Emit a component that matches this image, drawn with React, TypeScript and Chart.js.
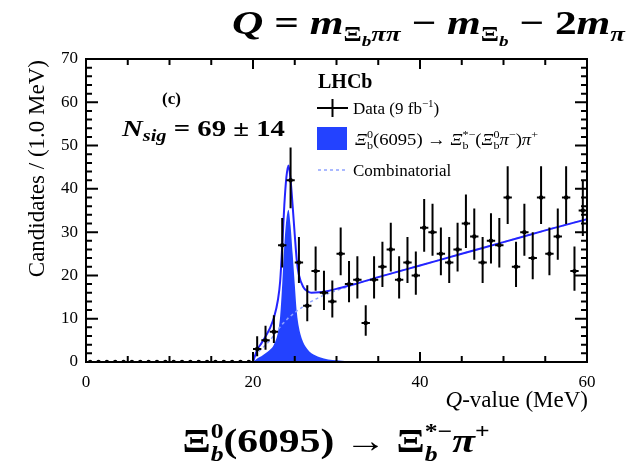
import React, { useEffect, useRef } from "react";
import { Chart, registerables } from "chart.js";
Chart.register(...registerables);

// ---------- data ----------
const binCenters = [
  0.5, 1.5, 2.5, 3.5, 4.5, 5.5, 6.5, 7.5, 8.5, 9.5,
  10.5, 11.5, 12.5, 13.5, 14.5, 15.5, 16.5, 17.5, 18.5, 19.5,
  20.5, 21.5, 22.5, 23.5, 24.5, 25.5, 26.5, 27.5, 28.5, 29.5,
  30.5, 31.5, 32.5, 33.5, 34.5, 35.5, 36.5, 37.5, 38.5, 39.5,
  40.5, 41.5, 42.5, 43.5, 44.5, 45.5, 46.5, 47.5, 48.5, 49.5,
  50.5, 51.5, 52.5, 53.5, 54.5, 55.5, 56.5, 57.5, 58.5, 59.5,
];
const counts = [
  0, 0, 0, 0, 0, 0, 0, 0, 0, 0,
  0, 0, 0, 0, 0, 0, 0, 0, 0, 0,
  3, 5, 7, 27, 42, 23, 13, 21, 16, 14,
  25, 18, 19, 9, 19, 22, 26, 19, 23, 20,
  31, 30, 25, 23, 26, 32, 29, 23, 28, 27,
  38, 22, 30, 24, 38, 25, 29, 38, 21, 35,
];
const fitQ = [
  20, 20.5, 21, 21.5, 22, 22.5, 23, 23.25, 23.5, 23.75,
  24, 24.25, 24.5, 24.75, 25, 25.25, 25.5, 26, 26.5, 27,
  28, 29, 30, 32, 35, 40, 45, 50, 55, 60,
];
const signalFit = [
  0, 0.8, 1.3, 2.0, 2.8, 4.0, 7.0, 10.5, 18, 27,
  33, 35.2, 31.5, 25, 18, 11.5, 8, 4.6, 3.0, 2.0,
  1.1, 0.6, 0.4, 0.1, 0, 0, 0, 0, 0, 0,
];
const backgroundFit = [
  0, 2.0, 3.0, 3.9, 4.9, 6.2, 7.5, 8.1, 8.7, 9.2,
  9.7, 10.2, 10.6, 11.0, 11.4, 11.8, 12.1, 12.8, 13.4, 14.0,
  15.0, 15.8, 16.5, 17.8, 19.6, 22.3, 25.0, 27.7, 30.4, 33.0,
];
const xTickValues = [0, 5, 10, 15, 20, 25, 30, 35, 40, 45, 50, 55, 60];
const xMajorTicks = [0, 20, 40, 60];
const yTickValues = [0, 2, 4, 6, 8, 10, 12, 14, 16, 18, 20, 22, 24, 26, 28, 30, 32, 34, 36, 38, 40, 42, 44, 46, 48, 50, 52, 54, 56, 58, 60, 62, 64, 66, 68, 70];
const yMajorTicks = [0, 10, 20, 30, 40, 50, 60, 70];

const SERIF = '"Liberation Serif", "Times New Roman", serif';
const SIG_COLOR = "#2342ff";
const TOTAL_COLOR = "#2424ff";
const BKG_COLOR = "#8ea2ff";

// ---------- rich text ----------
type Run = { t: string; size: number; b?: boolean; i?: boolean; dy?: number };
type Item = Run | { stack: [Run, Run] };
const fontOf = (r: Run) => `${r.i ? "italic " : ""}${r.b ? "bold " : ""}${r.size}px ${SERIF}`;
function itemWidth(ctx: CanvasRenderingContext2D, it: Item) {
  if ("stack" in it) {
    return Math.max(...it.stack.map((r) => { ctx.font = fontOf(r); return ctx.measureText(r.t).width; }));
  }
  ctx.font = fontOf(it);
  return ctx.measureText(it.t).width;
}
function drawRich(ctx: CanvasRenderingContext2D, items: Item[], x: number, y: number, align: "left" | "center" | "right", fitW?: number) {
  const total = items.reduce((s, it) => s + itemWidth(ctx, it), 0);
  const sc = fitW ? fitW / total : 1;
  const w = total * sc;
  const startX = align === "left" ? x : align === "center" ? x - w / 2 : x - w;
  ctx.save();
  ctx.translate(startX, y);
  ctx.scale(sc, 1);
  ctx.textAlign = "left";
  ctx.textBaseline = "alphabetic";
  ctx.fillStyle = "#000";
  let cx = 0;
  for (const it of items) {
    const iw = itemWidth(ctx, it);
    const runs = "stack" in it ? it.stack : [it];
    for (const r of runs) {
      ctx.font = fontOf(r);
      ctx.fillText(r.t, cx, r.dy || 0);
    }
    cx += iw;
  }
  ctx.restore();
}

// ---------- plugins ----------
const errorBars = {
  id: "errorBars",
  afterDatasetsDraw(chart: any) {
    const { ctx, scales } = chart;
    const xs = scales.x, ys = scales.y;
    ctx.save();
    ctx.strokeStyle = "#000";
    ctx.lineWidth = 2;
    for (let k = 0; k < counts.length; k++) {
      const n = counts[k];
      const cy = ys.getPixelForValue(n);
      const x0 = xs.getPixelForValue(binCenters[k] - 0.5);
      const x1 = xs.getPixelForValue(binCenters[k] + 0.5);
      const cx = xs.getPixelForValue(binCenters[k]);
      ctx.beginPath();
      ctx.moveTo(x0, cy);
      ctx.lineTo(x1, cy);
      if (n > 0) {
        const up = n + Math.sqrt(n + 0.75) + 1;
        const lo = n - Math.sqrt(n - 0.25);
        ctx.moveTo(cx, ys.getPixelForValue(up));
        ctx.lineTo(cx, ys.getPixelForValue(lo));
      }
      ctx.stroke();
    }
    ctx.restore();
  },
};

const decorations = {
  id: "decorations",
  afterDraw(chart: any) {
    const { ctx, chartArea, scales } = chart;
    const { left, right, top, bottom } = chartArea;
    ctx.save();
    ctx.strokeStyle = "#000";
    ctx.lineWidth = 2;
    ctx.strokeRect(left, top, right - left, bottom - top);
    ctx.beginPath();
    for (const v of yTickValues) {
      const py = scales.y.getPixelForValue(v);
      const len = yMajorTicks.includes(v) ? 12 : 6;
      ctx.moveTo(left, py); ctx.lineTo(left + len, py);
      ctx.moveTo(right, py); ctx.lineTo(right - len, py);
    }
    for (const v of xTickValues) {
      const px = scales.x.getPixelForValue(v);
      const len = xMajorTicks.includes(v) ? 10 : 6;
      ctx.moveTo(px, bottom); ctx.lineTo(px, bottom - len);
      ctx.moveTo(px, top); ctx.lineTo(px, top + len);
    }
    ctx.stroke();

    // axis titles
    drawRich(ctx, [
      { t: "Q", size: 23, i: true },
      { t: "-value (MeV)", size: 23 },
    ], right + 1, 407, "right");
    ctx.save();
    ctx.translate(38, top + 1);
    ctx.rotate(-Math.PI / 2);
    ctx.font = `23px ${SERIF}`;
    ctx.textAlign = "right";
    ctx.textBaseline = "middle";
    ctx.fillStyle = "#000";
    ctx.fillText("Candidates / (1.0 MeV)", 0, 0);
    ctx.restore();

    // labels in plot
    drawRich(ctx, [{ t: "(c)", size: 17, b: true }], 162, 104, "left");
    drawRich(ctx, [
      { t: "N", size: 24, b: true, i: true },
      { t: "sig", size: 17, b: true, i: true, dy: 5 },
      { t: " = 69 ± 14", size: 24, b: true },
    ], 122, 136, "left", 163);

    // legend
    drawRich(ctx, [{ t: "LHCb", size: 20, b: true }], 318, 88, "left");
    ctx.beginPath();
    ctx.lineWidth = 2;
    ctx.moveTo(317, 108); ctx.lineTo(348, 108);
    ctx.moveTo(332.5, 99); ctx.lineTo(332.5, 117);
    ctx.stroke();
    drawRich(ctx, [
      { t: "Data (9 fb", size: 17 },
      { t: "−1", size: 11, dy: -7 },
      { t: ")", size: 17 },
    ], 353, 114, "left");
    ctx.fillStyle = SIG_COLOR;
    ctx.fillRect(317, 127, 30, 23);
    const sub = (t: string): Run => ({ t, size: 11, dy: 4 });
    const sup = (t: string): Run => ({ t, size: 11, dy: -7 });
    drawRich(ctx, [
      { t: "Ξ", size: 17, i: true },
      { stack: [sup("0"), sub("b")] },
      { t: "(6095) → ", size: 17 },
      { t: "Ξ", size: 17, i: true },
      { stack: [sup("*−"), sub("b")] },
      { t: "(", size: 17 },
      { t: "Ξ", size: 17, i: true },
      { stack: [sup("0"), sub("b")] },
      { t: "π", size: 17, i: true },
      sup("−"),
      { t: ")", size: 17 },
      { t: "π", size: 17, i: true },
      sup("+"),
    ], 355, 145, "left", 183);
    ctx.beginPath();
    ctx.strokeStyle = BKG_COLOR;
    ctx.lineWidth = 1.5;
    ctx.setLineDash([3, 3]);
    ctx.moveTo(318, 170); ctx.lineTo(347, 170);
    ctx.stroke();
    ctx.setLineDash([]);
    drawRich(ctx, [{ t: "Combinatorial", size: 17 }], 353, 176, "left");

    // outer annotations
    const S = 34, s = 21, ss = 15;
    drawRich(ctx, [
      { t: "Q", size: S, b: true, i: true },
      { t: " = ", size: S, b: true },
      { t: "m", size: S, b: true, i: true },
      { t: "Ξ", size: s, b: true, dy: 7 },
      { t: "b", size: ss, b: true, i: true, dy: 12 },
      { t: "ππ", size: s, b: true, i: true, dy: 7 },
      { t: " − ", size: S, b: true },
      { t: "m", size: S, b: true, i: true },
      { t: "Ξ", size: s, b: true, dy: 7 },
      { t: "b", size: ss, b: true, i: true, dy: 12 },
      { t: " − 2", size: S, b: true },
      { t: "m", size: S, b: true, i: true },
      { t: "π", size: s, b: true, i: true, dy: 7 },
    ], 625, 34, "right", 393);
    drawRich(ctx, [
      { t: "Ξ", size: S, b: true },
      { stack: [{ t: "0", size: s, b: true, dy: -14 }, { t: "b", size: s, b: true, i: true, dy: 9 }] },
      { t: "(6095) → Ξ", size: S, b: true },
      { stack: [{ t: "*−", size: s, b: true, dy: -14 }, { t: "b", size: s, b: true, i: true, dy: 9 }] },
      { t: "π", size: S, b: true, i: true },
      { t: "+", size: s, b: true, dy: -14 },
    ], 336, 452, "center", 307);
    ctx.restore();
  },
};

// ---------- component ----------
export default function App() {
  const ref = useRef<HTMLCanvasElement>(null);
  useEffect(() => {
    document.body.style.margin = "0";
    const dataPts = binCenters.map((x, k) => ({ x, y: counts[k] }));
    const sigPts = fitQ.map((x, k) => ({ x, y: signalFit[k] }));
    const bkgPts = fitQ.map((x, k) => ({ x, y: backgroundFit[k] }));
    const totPts = fitQ.map((x, k) => ({ x, y: signalFit[k] + backgroundFit[k] }));
    const chart = new Chart(ref.current as HTMLCanvasElement, {
      type: "scatter",
      data: {
        datasets: [
          { label: "Data", data: dataPts, order: 0, showLine: false, pointRadius: 2.2, pointBackgroundColor: "#000", pointBorderWidth: 0 },
          { label: "Total", data: totPts, order: 1, showLine: true, borderColor: TOTAL_COLOR, borderWidth: 2, pointRadius: 0, cubicInterpolationMode: "monotone", fill: false },
          { label: "Combinatorial", data: bkgPts, order: 2, showLine: true, borderColor: BKG_COLOR, borderWidth: 1.5, borderDash: [3, 3], pointRadius: 0, cubicInterpolationMode: "monotone", fill: false },
          { label: "Signal", data: sigPts, order: 3, showLine: true, borderColor: SIG_COLOR, borderWidth: 0, backgroundColor: SIG_COLOR, pointRadius: 0, cubicInterpolationMode: "monotone", fill: "origin" },
        ],
      } as any,
      options: {
        animation: false,
        responsive: false,
        layout: { padding: { top: 59, right: 47, left: 0, bottom: 0 } },
        plugins: { legend: { display: false }, tooltip: { enabled: false } },
        scales: {
          x: {
            type: "linear", min: 0, max: 60,
            grid: { display: false, drawTicks: false }, border: { display: false },
            ticks: { stepSize: 20, padding: 10, color: "#000", font: { family: SERIF, size: 17 }, maxRotation: 0 },
            afterFit: (sc: any) => { sc.height = 107; },
          },
          y: {
            type: "linear", min: 0, max: 70,
            grid: { display: false, drawTicks: false }, border: { display: false },
            ticks: { stepSize: 10, padding: 8, color: "#000", font: { family: SERIF, size: 17 } },
            afterFit: (sc: any) => { sc.width = 86; },
          },
        },
      } as any,
      plugins: [errorBars, decorations],
    });
    return () => chart.destroy();
  }, []);
  return (
    <div style={{ width: 634, height: 469, background: "#fff" }}>
      <canvas ref={ref} width={634} height={469} style={{ display: "block", width: 634, height: 469 }} />
    </div>
  );
}
